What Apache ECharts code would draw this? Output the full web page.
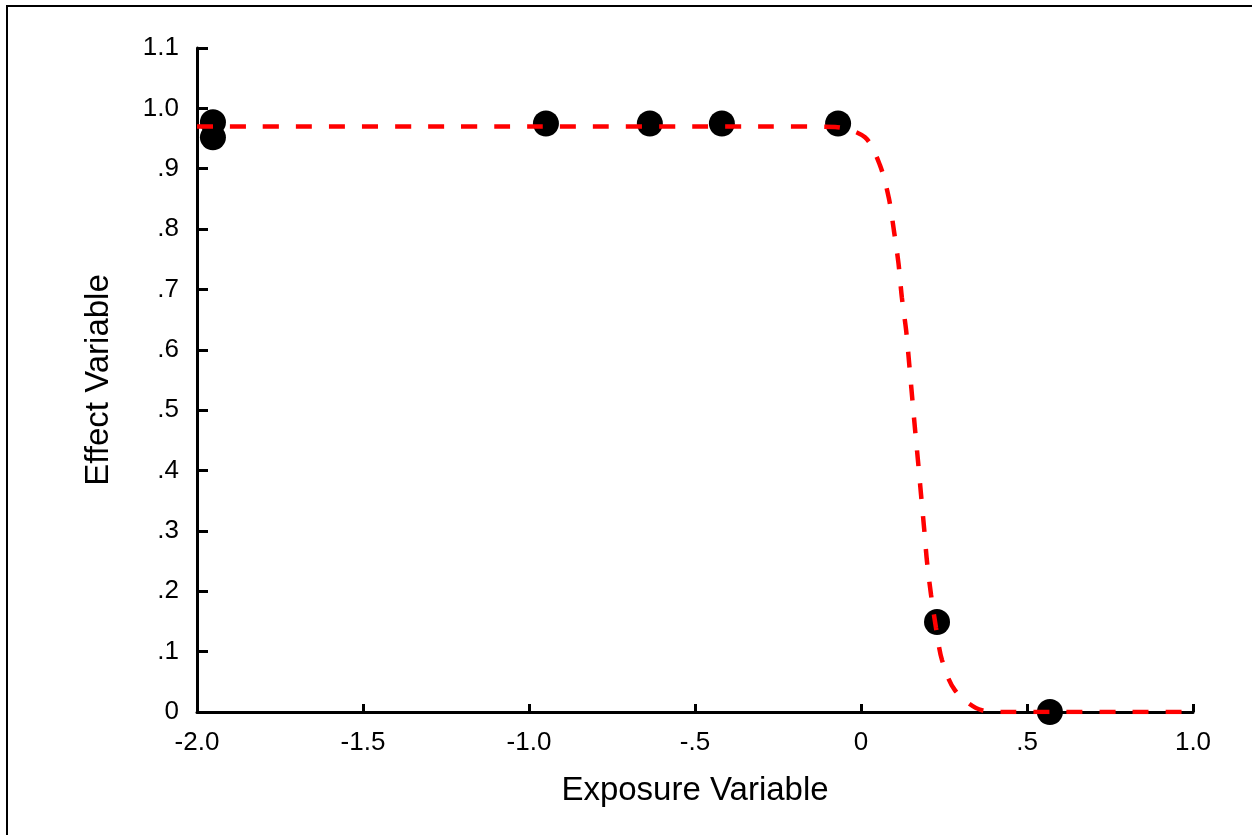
<!DOCTYPE html>
<html>
<head>
<meta charset="utf-8">
<script src="https://cdn.jsdelivr.net/npm/echarts@6/dist/echarts.min.js"></script>
<style>
html,body{margin:0;padding:0;background:#fff;}
#chart{width:1252px;height:835px;}
</style>
</head>
<body>
<div id="chart"></div>
<script>
var xTickLabels = ['-2.0', '-1.5', '-1.0', '-.5', '0', '.5', '1.0'];
var yTickLabels = ['0', '.1', '.2', '.3', '.4', '.5', '.6', '.7', '.8', '.9', '1.0', '1.1'];

var pointX = [-1.952, -1.952, -0.949, -0.636, -0.419, -0.069, 0.229, 0.569];
var pointY = [0.977, 0.952, 0.975, 0.975, 0.975, 0.975, 0.149, 0.0];

var curveX = [-2.0, -1.0, -0.3, -0.078, 0.012, 0.057, 0.084, 0.099, 0.113, 0.123, 0.136, 0.145, 0.154, 0.163, 0.172, 0.181, 0.190, 0.199, 0.211, 0.226, 0.244, 0.283, 0.364, 0.45, 1.0];
var curveY = [0.970, 0.970, 0.970, 0.969, 0.952, 0.906, 0.851, 0.798, 0.743, 0.687, 0.632, 0.578, 0.522, 0.467, 0.414, 0.359, 0.305, 0.248, 0.194, 0.139, 0.086, 0.036, 0.003, 0.0, 0.0];

var FONT = "'Liberation Sans', Arial, sans-serif";

var chart = echarts.init(document.getElementById('chart'));
chart.setOption({
  backgroundColor: '#ffffff',
  animation: false,
  graphic: [{
    type: 'rect',
    shape: { x: 7, y: 6, width: 1400, height: 1000 },
    style: { fill: 'none', stroke: '#000', lineWidth: 2 },
    silent: true
  }],
  grid: { left: 197, right: 59, top: 48, bottom: 123 },
  xAxis: {
    type: 'value', min: -2, max: 1, interval: 0.5,
    name: 'Exposure Variable', nameLocation: 'middle', nameGap: 62,
    nameTextStyle: { fontFamily: FONT, fontSize: 33, color: '#000' },
    axisLine: { onZero: false, lineStyle: { color: '#000', width: 3 } },
    axisTick: { inside: true, length: 8, lineStyle: { color: '#000', width: 3 } },
    axisLabel: {
      fontFamily: FONT, fontSize: 26, color: '#000', margin: 18,
      formatter: function (v) { return xTickLabels[Math.round((v + 2) / 0.5)]; }
    },
    splitLine: { show: false }
  },
  yAxis: {
    type: 'value', min: 0, max: 1.1, interval: 0.1,
    name: 'Effect Variable', nameLocation: 'middle', nameGap: 82, nameRotate: 90,
    nameTextStyle: { fontFamily: FONT, fontSize: 33, color: '#000' },
    axisLine: { show: true, onZero: false, lineStyle: { color: '#000', width: 3 } },
    axisTick: { show: true, inside: true, length: 11, lineStyle: { color: '#000', width: 3 } },
    axisLabel: {
      fontFamily: FONT, fontSize: 26, color: '#000', margin: 18,
      formatter: function (v) { return yTickLabels[Math.round(v * 10)]; }
    },
    splitLine: { show: false }
  },
  series: [{
    type: 'scatter',
    data: pointX.map(function (x, i) { return [x, pointY[i]]; }),
    symbol: 'circle', symbolSize: 26,
    itemStyle: { color: '#000', opacity: 1 },
    z: 2
  }, {
    type: 'line',
    data: curveX.map(function (x, i) { return [x, curveY[i]]; }),
    showSymbol: false, smooth: 0.3,
    lineStyle: { color: '#ff0000', width: 4.5, type: [16, 17] },
    z: 3
  }]
});
</script>
</body>
</html>
